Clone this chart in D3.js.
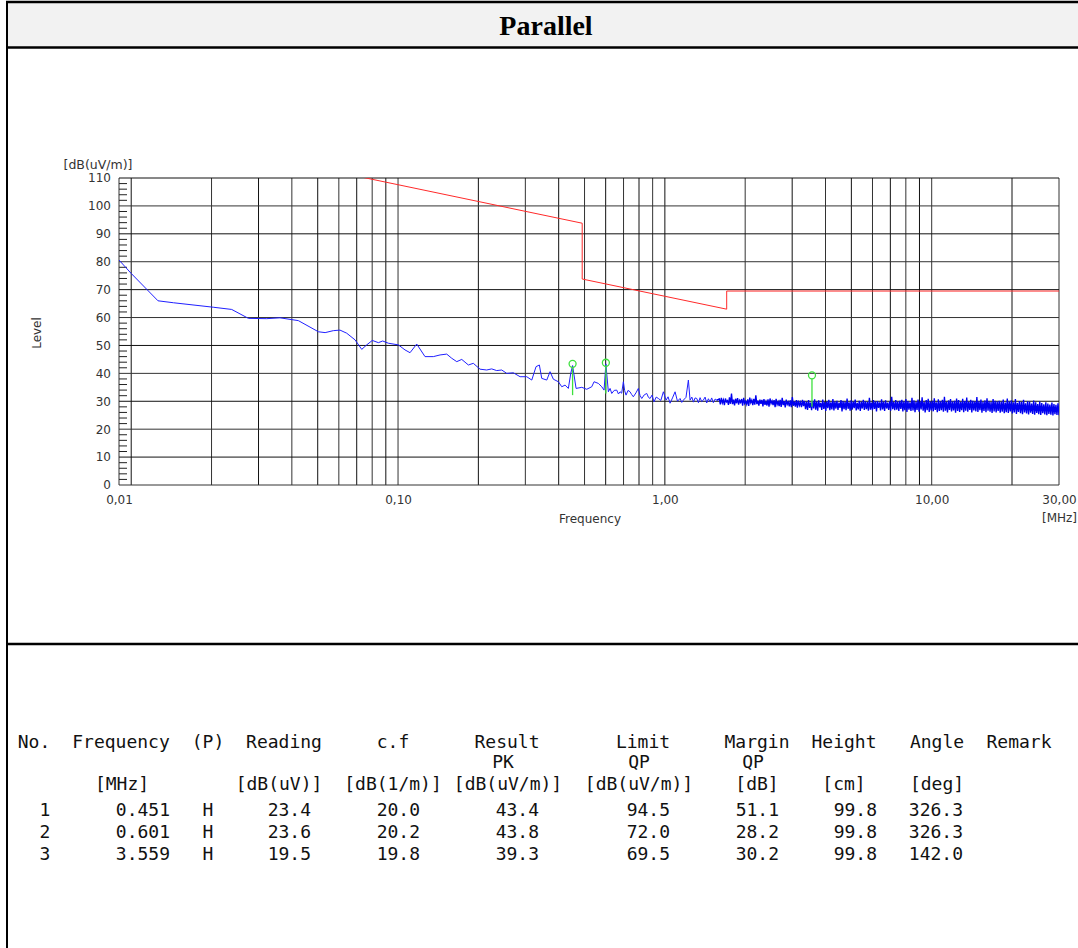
<!DOCTYPE html>
<html><head><meta charset="utf-8">
<script src="https://cdn.jsdelivr.net/npm/d3@7"></script>
<style>html,body{margin:0;padding:0;background:#fff;overflow:hidden;} svg{display:block;}</style>
</head><body>
<svg id="c" width="1078" height="948"></svg>
<script>
// ---------------- DATA ----------------
const chartTitle = "Parallel";
const yUnitLabel = "[dB(uV/m)]";
const yTitleLabel = "Level";
const xTitleLabel = "Frequency";
const xUnitLabel = "[MHz]";

const xDomain = [0.009, 30];
const yDomain = [0, 110];
const xTickValues = [0.009, 0.1, 1, 10, 30];
const xTickLabels = ["0,01", "0,10", "1,00", "10,00", "30,00"];
const yTickValues = [0, 10, 20, 30, 40, 50, 60, 70, 80, 90, 100, 110];
const xGridValues = [0.009, 0.01, 0.02, 0.03, 0.04, 0.05, 0.06, 0.07, 0.08, 0.09,
  0.1, 0.2, 0.3, 0.4, 0.5, 0.6, 0.7, 0.8, 0.9,
  1, 2, 3, 4, 5, 6, 7, 8, 9, 10, 20, 30];

// measured trace, 9 kHz .. 1.6 MHz  [MHz, dB(uV/m)]
const traceLow = [
  [0.009,80.6],[0.0100,75.8],[0.0126,66.0],[0.0144,65.3],[0.0203,63.7],[0.0238,62.9],
  [0.0275,59.7],[0.0322,59.6],[0.0361,59.9],[0.0423,58.9],[0.0503,54.9],[0.0533,54.6],
  [0.0572,55.3],[0.0606,55.5],[0.0642,54.4],[0.069,52.0],[0.0731,48.6],[0.0763,50.2],
  [0.0801,51.8],[0.0844,51.0],[0.0876,51.6],[0.092,50.8],[0.1003,50.2],[0.1062,48.4],
  [0.1109,47.4],[0.1175,50.5],[0.1262,46.0],[0.1356,46.0],[0.1437,46.6],[0.1522,46.9],
  [0.1590,45.4],[0.166,44.2],[0.1733,45.0],[0.1835,43.0],[0.1915,43.6],[0.2029,41.5],
  [0.2149,41.2],[0.2244,41.6],[0.2343,41.0],[0.2447,41.2],[0.2555,40.0],[0.2706,40.2],
  [0.2866,38.8],[0.3036,38.8],[0.3171,37.6],[0.329,42.4],[0.3386,43.0],[0.3456,38.2],
  [0.3609,37.6],[0.3713,40.6],[0.3821,37.9],[0.3989,37.0],[0.4108,35.2],[0.4226,35.8],
  [0.4348,34.6],[0.4439,40.0],[0.451,42.8],[0.4648,34.6],[0.4883,35.0],[0.5096,34.3],
  [0.5321,35.2],[0.5428,37.0],[0.5633,36.4],[0.5801,35.2],[0.5918,34.0],[0.601,43.4],
  [0.6141,33.4],[0.6232,34.6],[0.6323,32.8],[0.6460,33.9],[0.6602,34.0],[0.6700,32.6],
  [0.6792,33.4],[0.6890,32.9],[0.6989,37.0],[0.7070,33.8],[0.7153,32.2],[0.7280,33.9],
  [0.7404,33.4],[0.7510,32.4],[0.7618,31.6],[0.7790,33.0],[0.7954,34.6],[0.8070,32.1],
  [0.8191,31.0],[0.8370,32.3],[0.8554,32.8],[0.8680,31.4],[0.8801,31.0],[0.8950,32.2],
  [0.9108,29.8],[0.9280,31.5],[0.9458,31.0],[0.9660,30.3],[0.9873,33.4],[1.0106,30.4],
  [1.028,31.6],[1.046,29.3],[1.068,31.2],[1.092,33.4],[1.115,30.0],[1.140,31.0],
  [1.157,29.6],[1.173,30.4],[1.200,31.4],[1.225,37.6],[1.243,30.4],[1.262,31.5],
  [1.280,29.7],[1.298,31.2],[1.317,31.0],[1.336,29.5],[1.355,31.3],[1.374,29.9],
  [1.394,30.4],[1.415,31.5],[1.435,29.4],[1.456,30.9],[1.477,29.8],[1.498,31.2],
  [1.520,29.5],[1.543,30.8],[1.565,30.4]
];

// sweep 1.6 MHz .. 30 MHz (log-spaced sweep points), levels
const bandSweep = [1.6, 30];
const bandLevels = [
  30.8,28.9,31.2,29.4,30.5,28.6,31.0,29.8,30.2,28.7,31.4,29.1,32.8,29.0,30.6,28.5,30.9,29.3,31.1,28.8,
  30.3,29.6,30.8,28.4,31.2,29.2,30.0,28.9,30.7,28.3,31.3,29.5,30.4,28.6,30.9,28.8,32.1,29.0,30.2,28.4,
  30.6,29.1,30.5,28.2,30.8,28.7,29.9,28.5,30.7,28.1,31.0,29.2,30.1,28.6,30.4,27.9,30.9,28.8,29.8,28.3,
  30.5,28.0,31.2,28.6,30.0,27.8,30.6,28.9,29.7,28.2,30.3,27.9,31.5,28.4,29.9,28.1,30.4,27.7,30.2,28.5,
  29.6,27.9,30.5,28.3,
  30.1,27.2,29.8,26.9,30.4,27.6,29.5,26.8,30.2,27.4,30.7,27.0,29.9,26.6,30.3,27.8,29.4,26.9,30.6,27.3,
  29.7,26.5,30.0,27.5,30.5,26.8,29.6,27.1,30.8,26.7,29.9,27.4,30.2,26.9,29.5,27.6,30.4,26.4,30.1,27.2,
  29.8,26.8,31.0,27.3,29.6,26.6,30.3,27.0,29.9,27.5,30.6,26.7,29.4,27.1,30.2,26.5,29.8,27.4,30.5,26.9,
  30.0,27.2,29.7,26.6,31.2,27.0,29.5,26.8,30.4,27.3,29.9,26.4,30.1,27.6,29.6,26.7,30.7,27.1,29.8,26.5,
  30.3,27.4,29.5,26.9,30.0,26.6,31.6,27.2,29.7,26.8,30.4,27.0,29.9,26.5,30.2,27.3,
  30.5,26.4,29.9,26.8,30.8,26.2,30.1,27.0,29.6,26.5,31.2,26.7,30.3,26.1,29.8,26.9,30.6,26.3,30.0,27.1,
  31.4,26.6,29.7,26.0,30.4,26.8,30.9,26.2,29.9,26.7,30.2,26.4,31.1,26.9,29.6,26.1,30.7,26.5,30.0,26.8,
  30.5,26.3,31.6,26.6,29.8,26.0,30.3,26.9,30.8,26.4,29.9,26.7,30.2,25.9,31.0,26.5,30.4,26.2,29.7,26.8,
  30.9,26.1,30.1,26.6,31.3,26.3,29.8,26.9,30.5,26.0,30.2,26.7,29.9,26.4,31.5,26.2,30.0,26.8,30.6,25.9,
  29.8,26.5,30.3,26.1,31.1,26.6,30.0,26.3,29.7,25.8,30.8,26.4,30.2,26.0,29.9,26.5,
  30.2,25.9,29.8,26.3,30.6,25.7,29.5,26.1,31.0,25.8,29.9,26.4,30.3,25.6,29.6,26.0,30.8,25.5,29.4,26.2,
  30.1,25.7,29.7,25.4,30.5,26.0,29.3,25.6,30.0,25.3,29.8,25.9,29.2,25.5,30.3,25.2,29.6,25.8,29.0,25.4,
  29.9,25.1,29.4,25.7,28.9,25.3,29.6,25.0,29.2,25.5,28.8,25.2,29.5,24.9,29.0,25.4,28.7,25.1,29.3,25.0
];

// limit line
const limitFreqs  = [0.009, 0.49, 0.49, 1.705, 1.705, 30];
const limitLevels = [128.5, 93.8, 73.8, 63.0, 69.5, 69.5];

// peak markers
const markerFreqs  = [0.451, 0.601, 3.559];
const markerLevels = [43.4, 43.8, 39.3];
const markerBase   = [32.2, 32.8, 28.0];

// table
const tableHead  = ["No.", "Frequency", "(P)", "Reading", "c.f", "Result", "Limit", "Margin", "Height", "Angle", "Remark"];
const tableSub   = ["", "", "", "", "", "PK", "QP", "QP", "", "", ""];
const tableUnits = ["", "[MHz]", "", "[dB(uV)]", "[dB(1/m)]", "[dB(uV/m)]", "[dB(uV/m)]", "[dB]", "[cm]", "[deg]", ""];
const colNo      = ["1", "2", "3"];
const colFreq    = ["0.451", "0.601", "3.559"];
const colPol     = ["H", "H", "H"];
const colReading = ["23.4", "23.6", "19.5"];
const colCf      = ["20.0", "20.2", "19.8"];
const colResult  = ["43.4", "43.8", "39.3"];
const colLimit   = ["94.5", "72.0", "69.5"];
const colMargin  = ["51.1", "28.2", "30.2"];
const colHeight  = ["99.8", "99.8", "99.8"];
const colAngle   = ["326.3", "326.3", "142.0"];

// ---------------- DRAW ----------------
const svg = d3.select("#c");
const plot = {left: 119, right: 1059, top: 178, bottom: 485};
const x = d3.scaleLog().domain(xDomain).range([plot.left, plot.right]);
const y = d3.scaleLinear().domain(yDomain).range([plot.bottom, plot.top]);

// page frame
svg.append("rect").attr("x", 7).attr("y", 2).attr("width", 1080).attr("height", 45).attr("fill", "#f2f2f2");
const frame = svg.append("g").attr("stroke", "#000").attr("stroke-width", 2.4);
frame.append("line").attr("x1", 6).attr("x2", 1080).attr("y1", 2).attr("y2", 2);
frame.append("line").attr("x1", 6).attr("x2", 1080).attr("y1", 47.5).attr("y2", 47.5);
frame.append("line").attr("x1", 6).attr("x2", 1080).attr("y1", 644).attr("y2", 644);
frame.append("line").attr("x1", 7).attr("x2", 7).attr("y1", 1).attr("y2", 950).attr("stroke-width", 2);

svg.append("text").attr("x", 546).attr("y", 35).attr("text-anchor", "middle")
  .attr("font-family", "Liberation Serif, Times New Roman, serif").attr("font-weight", "bold")
  .attr("font-size", 28).attr("fill", "#000").text(chartTitle);

// grid
const grid = svg.append("g").attr("stroke", "#000").attr("stroke-width", 1).attr("fill", "none");
grid.selectAll("line.v").data(xGridValues).join("line").attr("class", "v")
  .attr("x1", d => x(d)).attr("x2", d => x(d)).attr("y1", plot.top).attr("y2", plot.bottom)
  .attr("stroke", (d, i) => i % 2 ? "#111" : "#333");
grid.selectAll("line.h").data(yTickValues).join("line").attr("class", "h")
  .attr("x1", plot.left).attr("x2", plot.right).attr("y1", d => y(d)).attr("y2", d => y(d))
  .attr("stroke", (d, i) => i % 2 ? "#111" : "#333");
// minor ticks on y axis
grid.selectAll("line.m").data(d3.range(2, 110, 2).filter(d => d % 10 !== 0)).join("line").attr("class", "m")
  .attr("x1", plot.left).attr("x2", plot.left + 8).attr("y1", d => y(d)).attr("y2", d => y(d))
  .attr("stroke", "#222");

// axes
const axisFont = "DejaVu Sans, Verdana, sans-serif";
const xAxis = d3.axisBottom(x).tickValues(xTickValues).tickFormat((d, i) => xTickLabels[i]).tickSize(0).tickPadding(10);
const gx = svg.append("g").attr("transform", `translate(0,${plot.bottom})`).call(xAxis);
gx.select(".domain").remove();
gx.selectAll("text").attr("font-family", axisFont).attr("font-size", 12).attr("fill", "#333");

const yAxis = d3.axisLeft(y).tickValues(yTickValues).tickSize(0).tickPadding(8);
const gy = svg.append("g").attr("transform", `translate(${plot.left},0)`).call(yAxis);
gy.select(".domain").remove();
gy.selectAll("text").attr("font-family", axisFont).attr("font-size", 12).attr("fill", "#333");

svg.append("text").attr("x", 98).attr("y", 169).attr("text-anchor", "middle")
  .attr("font-family", axisFont).attr("font-size", 12.5).attr("fill", "#333").text(yUnitLabel);
svg.append("text").attr("transform", "translate(41,333) rotate(-90)").attr("text-anchor", "middle")
  .attr("font-family", axisFont).attr("font-size", 12).attr("fill", "#333").text(yTitleLabel);
svg.append("text").attr("x", 590).attr("y", 523).attr("text-anchor", "middle")
  .attr("font-family", axisFont).attr("font-size", 12).attr("fill", "#333").text(xTitleLabel);
svg.append("text").attr("x", 1077).attr("y", 522).attr("text-anchor", "end")
  .attr("font-family", axisFont).attr("font-size", 12).attr("fill", "#333").text(xUnitLabel);

// clip
svg.append("clipPath").attr("id", "pc").append("rect")
  .attr("x", plot.left).attr("y", plot.top).attr("width", plot.right - plot.left).attr("height", plot.bottom - plot.top);
const inner = svg.append("g").attr("clip-path", "url(#pc)");

const line = d3.line().x(d => x(d[0])).y(d => y(d[1]));

// limit
const limitData = limitFreqs.map((f, i) => [f, limitLevels[i]]);
inner.append("path").attr("d", line(limitData)).attr("fill", "none").attr("stroke", "#ff2a2a").attr("stroke-width", 1);

// trace
const nB = bandLevels.length;
const bandData = bandLevels.map((v, i) => [bandSweep[0] * Math.pow(bandSweep[1] / bandSweep[0], i / (nB - 1)), v]);
inner.append("path").attr("d", line(traceLow.concat(bandData.slice(0, 1)))).attr("fill", "none")
  .attr("stroke", "#2020ff").attr("stroke-width", 1);
inner.append("path").attr("d", line(traceLow.slice(-1).concat(bandData))).attr("fill", "none")
  .attr("stroke", "#0000f0").attr("stroke-width", 1.35);

// markers
const mk = svg.append("g").attr("stroke", "#3ee03e").attr("fill", "none").attr("stroke-width", 1.3);
markerFreqs.forEach((f, i) => {
  mk.append("line").attr("x1", x(f)).attr("x2", x(f)).attr("y1", y(markerLevels[i]) + 3.5).attr("y2", y(markerBase[i]));
  mk.append("circle").attr("cx", x(f)).attr("cy", y(markerLevels[i])).attr("r", 3.5);
});

// table
const tFont = "DejaVu Sans Mono, Liberation Mono, monospace";
const tbl = svg.append("g").attr("font-family", tFont).attr("font-size", 18).attr("fill", "#111");
const headCenters = [34, 121, 208, 284, 393, 507, 643, 757, 844, 937, 1019];
const unitCenters = [34, 122, 208, 279, 393, 508, 639, 757, 844, 937, 1019];
tbl.selectAll("text.h").data(tableHead).join("text").attr("class", "h")
  .attr("x", (d, i) => headCenters[i]).attr("y", 748).attr("text-anchor", "middle").text(d => d);
tbl.selectAll("text.s").data(tableSub).join("text").attr("class", "s")
  .attr("x", (d, i) => headCenters[i] - 4).attr("y", 768).attr("text-anchor", "middle").text(d => d);
tbl.selectAll("text.u").data(tableUnits).join("text").attr("class", "u")
  .attr("x", (d, i) => unitCenters[i]).attr("y", 790).attr("text-anchor", "middle").text(d => d);

const rowY = [815.5, 837.5, 859.5];
const cols = [
  {vals: colNo, x: 45, anchor: "middle"},
  {vals: colFreq, x: 170, anchor: "end"},
  {vals: colPol, x: 208, anchor: "middle"},
  {vals: colReading, x: 311, anchor: "end"},
  {vals: colCf, x: 420, anchor: "end"},
  {vals: colResult, x: 539, anchor: "end"},
  {vals: colLimit, x: 670, anchor: "end"},
  {vals: colMargin, x: 779, anchor: "end"},
  {vals: colHeight, x: 877, anchor: "end"},
  {vals: colAngle, x: 963, anchor: "end"}
];
cols.forEach(c => {
  c.vals.forEach((v, r) => {
    tbl.append("text").attr("x", c.x).attr("y", rowY[r]).attr("text-anchor", c.anchor).text(v);
  });
});
</script>
</body></html>
